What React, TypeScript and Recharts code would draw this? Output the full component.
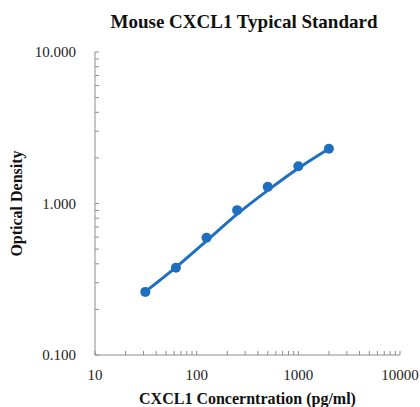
import React from 'react';
import { ComposedChart, Line, XAxis, YAxis, Label } from 'recharts';

const concentrations = [31.25, 62.5, 125, 250, 500, 1000, 2000];
const opticalDensity = [0.261, 0.377, 0.595, 0.904, 1.288, 1.76, 2.3];
const fitConcentrations = [31.25, 62.5, 125, 250, 500, 1000, 2000];
const fitDensity = [0.262, 0.379, 0.566, 0.85, 1.22, 1.71, 2.3];
const xMajorTicks = [10, 100, 1000, 10000];
const yMajorTicks = [0.1, 1, 10];
const minorMultipliers = [2, 3, 4, 5, 6, 7, 8, 9];

const pointData = concentrations.map((c, i) => ({ conc: c, od: opticalDensity[i] }));
const fitData = fitConcentrations.map((c, i) => ({ conc: c, od: fitDensity[i] }));

const buildTicks = (majors: number[]) => {
  const out: number[] = [];
  majors.forEach((m, i) => {
    out.push(m);
    if (i < majors.length - 1) minorMultipliers.forEach((k) => out.push(+(m * k).toPrecision(6)));
  });
  return out;
};
const xTicks = buildTicks(xMajorTicks);
const yTicks = buildTicks(yMajorTicks);

const isMajor = (v: number, majors: number[]) => majors.some((m) => Math.abs(m - v) < 1e-9);

const BLUE = '#1f6fc0';
const AXIS = '#8c8c8c';
const FONT = '"Liberation Serif", "Times New Roman", serif';

const XTick = (props: any) => {
  const { x, y, payload } = props;
  const major = isMajor(payload.value, xMajorTicks);
  return (
    <g>
      <line x1={x} x2={x} y1={y} y2={y - 4} stroke={AXIS} strokeWidth={1} />
      {major && (
        <text x={x} y={y + 25} textAnchor="middle" fontFamily={FONT} fontSize={15} fill="#222">
          {payload.value}
        </text>
      )}
    </g>
  );
};

const YTick = (props: any) => {
  const { x, y, payload } = props;
  const major = isMajor(payload.value, yMajorTicks);
  return (
    <g>
      <line x1={x} x2={x + 4} y1={y} y2={y} stroke={AXIS} strokeWidth={1} />
      {major && (
        <text x={x - 19} y={y + 5} textAnchor="end" fontFamily={FONT} fontSize={15} fill="#222">
          {payload.value.toFixed(3)}
        </text>
      )}
    </g>
  );
};

export default function App() {
  return (
    <div style={{ position: 'absolute', left: 0, top: 0, width: 420, height: 407, background: '#fff' }}>
      <div
        style={{
          position: 'absolute',
          left: 44,
          width: 400,
          top: 11,
          textAlign: 'center',
          fontFamily: FONT,
          fontWeight: 'bold',
          fontSize: 19,
          lineHeight: 'normal',
          color: '#111',
        }}
      >
        Mouse CXCL1 Typical Standard
      </div>
      <ComposedChart width={420} height={407} margin={{ top: 52, right: 20, bottom: 0, left: 0 }}>
        <XAxis
          dataKey="conc"
          type="number"
          scale="log"
          domain={[10, 10000]}
          ticks={xTicks}
          interval={0}
          tickSize={0}
          tickMargin={0}
          tick={<XTick />}
          stroke={AXIS}
          height={52}
          allowDataOverflow
        >
          <Label
            value="CXCL1 Concerntration (pg/ml)"
            position="insideBottom"
            offset={3}
            style={{ fontFamily: FONT, fontWeight: 'bold', fontSize: 16, fill: '#111' }}
          />
        </XAxis>
        <YAxis
          dataKey="od"
          type="number"
          scale="log"
          domain={[0.1, 10]}
          ticks={yTicks}
          interval={0}
          tickSize={0}
          tickMargin={0}
          tick={<YTick />}
          stroke={AXIS}
          width={95}
          allowDataOverflow
        >
          <Label
            value="Optical Density"
            angle={-90}
            position="insideLeft"
            offset={16}
            style={{ textAnchor: 'middle', fontFamily: FONT, fontWeight: 'bold', fontSize: 16, fill: '#111' }}
          />
        </YAxis>
        <Line
          data={fitData}
          dataKey="od"
          type="monotone"
          stroke={BLUE}
          strokeWidth={3}
          dot={false}
          activeDot={false}
          isAnimationActive={false}
        />
        <Line
          data={pointData}
          dataKey="od"
          stroke="none"
          dot={{ r: 5, fill: BLUE, stroke: BLUE, strokeWidth: 0 }}
          activeDot={false}
          isAnimationActive={false}
        />
      </ComposedChart>
    </div>
  );
}
